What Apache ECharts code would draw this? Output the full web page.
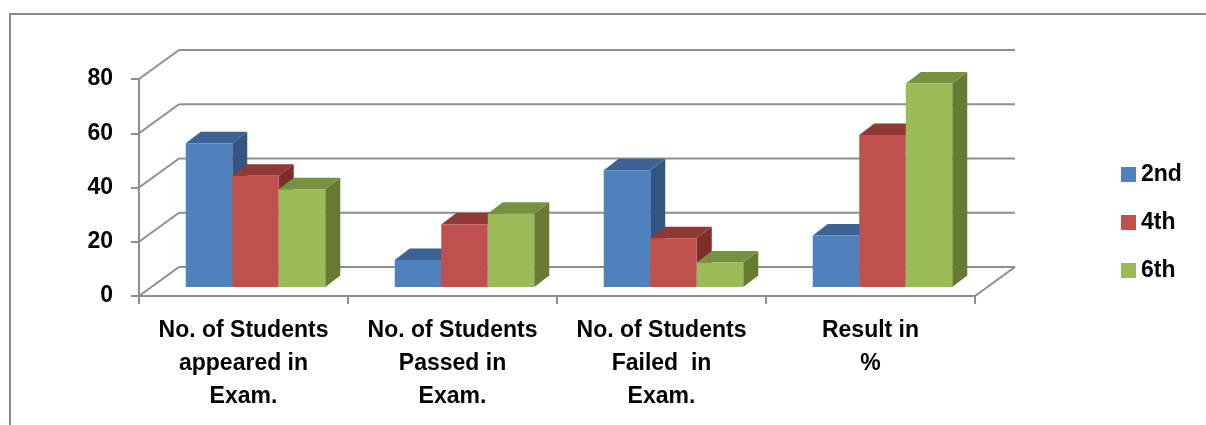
<!DOCTYPE html>
<html>
<head>
<meta charset="utf-8">
<script src="https://cdn.jsdelivr.net/npm/echarts@6/dist/echarts.min.js"></script>
<style>
  html, body { margin: 0; padding: 0; background: #ffffff; }
  #chart { width: 1206px; height: 425px; }
</style>
</head>
<body>
<div id="chart"></div>
<script>
// ---- data ----
const categories = [
  'No. of Students\nappeared in\nExam.',
  'No. of Students\nPassed in\nExam.',
  'No. of Students\nFailed  in\nExam.',
  'Result in\n%'
];
const seriesNames = ['2nd', '4th', '6th'];
const values2nd = [53, 10, 43, 19];
const values4th = [41, 23, 18, 56];
const values6th = [36, 27, 9, 75];
const yTicks = [0, 20, 40, 60, 80];

// ---- style ----
const FONT = '"Liberation Sans", Arial, sans-serif';
const LINE = '#8e8e8e';
const WALL = [40, -29];      // offset of back wall from front plane
const BAR_OFF = [12, -9];    // offset of bar front faces from front plane
const BAR_DEPTH = [15, -11.5];
const BAR_FRAC = 0.2225;
const colors = [
  { front: '#4F81BD', top: '#3D6394', side: '#345580' },
  { front: '#C0504D', top: '#8F3937', side: '#7B2E2C' },
  { front: '#9BBB59', top: '#77923E', side: '#657A33' }
];
const seriesValues = [values2nd, values4th, values6th];

function barRenderer(idx) {
  return function (params, api) {
    const ci = api.value(0);
    const v = api.value(1);
    const base = api.coord([ci, 0]);
    const top = api.coord([ci, v]);
    const band = api.size([1, 0])[0];
    const bw = band * BAR_FRAC;
    const x0 = base[0] + BAR_OFF[0] - 1.5 * bw + idx * bw;
    const x1 = x0 + bw;
    const yb = base[1] + BAR_OFF[1];
    const yt = top[1] + BAR_OFF[1];
    const dx = BAR_DEPTH[0], dy = BAR_DEPTH[1];
    const c = colors[idx];
    return {
      type: 'group',
      children: [
        { type: 'polygon', shape: { points: [[x1, yt], [x1 + dx, yt + dy], [x1 + dx, yb + dy], [x1, yb]] },
          style: { fill: c.side } },
        { type: 'polygon', shape: { points: [[x0, yt], [x1, yt], [x1 + dx, yt + dy], [x0 + dx, yt + dy]] },
          style: { fill: c.top } },
        { type: 'rect', shape: { x: x0, y: yt, width: bw, height: yb - yt },
          style: { fill: c.front } }
      ]
    };
  };
}

function wallRenderer(params, api) {
  const v = api.value(1);
  const y = api.coord([0, v])[1];
  const cs = params.coordSys;
  const left = cs.x, right = cs.x + cs.width;
  const st = { stroke: LINE, lineWidth: 2, fill: null };
  const children = [
    { type: 'line', shape: { x1: left, y1: y, x2: left + WALL[0], y2: y + WALL[1] }, style: st },
    { type: 'line', shape: { x1: left + WALL[0], y1: y + WALL[1], x2: right + WALL[0], y2: y + WALL[1] }, style: st }
  ];
  if (v === 0) {
    children.push({ type: 'line', shape: { x1: right, y1: y, x2: right + WALL[0], y2: y + WALL[1] }, style: st });
  }
  return { type: 'group', children: children };
}

const series = [{
  type: 'custom',
  name: 'walls',
  silent: true,
  z: 1,
  renderItem: wallRenderer,
  data: yTicks.map(v => [0, v]),
  encode: { x: 0, y: 1 }
}];
seriesNames.forEach((name, i) => {
  series.push({
    type: 'custom',
    name: name,
    z: 2 + i,
    itemStyle: { color: colors[i].front },
    renderItem: barRenderer(i),
    data: seriesValues[i].map((v, ci) => [ci, v]),
    encode: { x: 0, y: 1 }
  });
});

const chart = echarts.init(document.getElementById('chart'), null, { renderer: 'canvas' });
chart.setOption({
  animation: false,
  backgroundColor: '#ffffff',
  graphic: [{
    type: 'rect', silent: true,
    shape: { x: 10, y: 14, width: 1300, height: 500 },
    style: { fill: null, stroke: '#8a8a8a', lineWidth: 2 }
  }],
  grid: { left: 139, right: 231, top: 79, bottom: 129, containLabel: false },
  legend: {
    orient: 'vertical',
    left: 1121,
    top: 163,
    padding: 0,
    itemWidth: 15,
    itemHeight: 15,
    itemGap: 25,
    icon: 'rect',
    data: seriesNames,
    textStyle: { fontFamily: FONT, fontWeight: 'bold', fontSize: 23, lineHeight: 23, color: '#000' }
  },
  xAxis: {
    type: 'category',
    data: categories,
    boundaryGap: true,
    axisLine: { show: true, lineStyle: { color: LINE, width: 2 } },
    axisTick: { show: true, length: 8, lineStyle: { color: LINE, width: 2 } },
    axisLabel: {
      interval: 0, margin: 18,
      fontFamily: FONT, fontWeight: 'bold', fontSize: 23, lineHeight: 33, color: '#000', align: 'center'
    },
    splitLine: { show: false }
  },
  yAxis: {
    type: 'value',
    min: 0, max: 80, interval: 20,
    axisLine: { show: true, lineStyle: { color: LINE, width: 2 } },
    axisTick: { show: true, length: 8, lineStyle: { color: LINE, width: 2 } },
    axisLabel: { margin: 26, fontFamily: FONT, fontWeight: 'bold', fontSize: 23, color: '#000' },
    splitLine: { show: false }
  },
  series: series
});
</script>
</body>
</html>
